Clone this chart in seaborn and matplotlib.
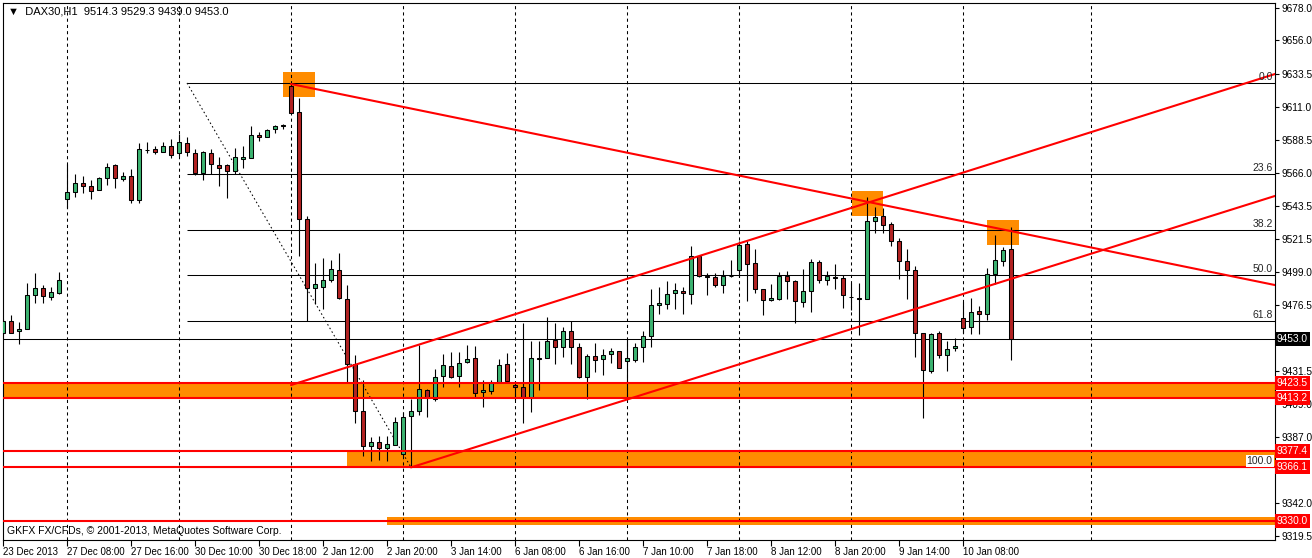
import numpy as np
import pandas as pd
import matplotlib
matplotlib.use("Agg")
import matplotlib.pyplot as plt
import matplotlib.transforms as mtrans
import seaborn as sns

# ---- candle data (DAX30, H1) ----
opens = [9457.6, 9465.3, 9458.5, 9459.8, 9482.9, 9487.7, 9481.5, 9484.2, 9548.1, 9552.9,
         9558.9, 9556.9, 9554.2, 9562.4, 9571.2, 9561.7, 9563.7, 9547.4, 9581.4, 9582.1,
         9580.0, 9584.1, 9579.3, 9586.1, 9579.3, 9565.8, 9579.3, 9571.2, 9571.2, 9567.1,
         9575.3, 9575.9, 9591.5, 9590.2, 9595.6, 9597.9, 9624.8, 9607.2, 9534.5, 9487.7,
         9488.3, 9493.0, 9499.9, 9480.2, 9436.1, 9404.2, 9380.9, 9383.1, 9379.6, 9381.6,
         9375.0, 9401.2, 9404.2, 9418.4, 9412.3, 9427.9, 9434.7, 9427.9, 9437.4, 9440.2,
         9417.1, 9417.8, 9423.9, 9436.1, 9421.8, 9420.4, 9413.0, 9440.2, 9440.2, 9452.4,
         9447.6, 9458.5, 9447.6, 9427.2, 9441.5, 9439.5, 9442.9, 9444.9, 9438.1, 9438.8,
         9447.6, 9455.1, 9476.2, 9476.9, 9484.2, 9485.6, 9483.6, 9509.4, 9495.8, 9495.1,
         9489.7, 9495.8, 9499.9, 9517.6, 9504.6, 9487.0, 9479.5, 9480.2, 9495.8, 9492.4,
         9478.2, 9485.6, 9505.3, 9493.0, 9495.1, 9494.4, 9481.8, 9480.9, 9480.2, 9533.2,
         9536.6, 9531.1, 9519.6, 9506.0, 9499.9, 9457.1, 9431.5, 9457.1, 9442.2, 9446.9,
         9467.3, 9461.1, 9472.1, 9470.0, 9497.2, 9506.0, 9514.3]
highs = [9466.6, 9469.3, 9464.5, 9491.0, 9497.8, 9489.7, 9488.3, 9498.5, 9571.9, 9565.1,
         9563.7, 9561.0, 9563.0, 9572.6, 9571.9, 9566.4, 9568.5, 9586.1, 9586.8, 9584.1,
         9586.8, 9588.8, 9592.2, 9590.2, 9582.1, 9580.9, 9582.1, 9576.6, 9571.9, 9582.7,
         9584.1, 9597.7, 9593.6, 9595.6, 9598.3, 9599.4, 9626.2, 9616.7, 9536.6, 9504.6,
         9508.0, 9506.6, 9511.4, 9489.7, 9442.2, 9425.2, 9386.4, 9387.1, 9387.1, 9400.3,
         9403.6, 9412.3, 9449.2, 9419.1, 9432.7, 9442.9, 9444.2, 9444.2, 9449.0, 9448.3,
         9425.2, 9425.2, 9439.5, 9443.5, 9424.8, 9463.9, 9451.9, 9451.9, 9467.9, 9463.9,
         9461.4, 9465.3, 9450.3, 9442.9, 9450.3, 9446.3, 9446.9, 9444.9, 9453.1, 9450.3,
         9458.5, 9487.0, 9488.3, 9492.4, 9491.0, 9488.3, 9516.2, 9510.1, 9497.8, 9497.8,
         9499.9, 9506.7, 9519.6, 9519.6, 9514.2, 9487.0, 9490.4, 9498.5, 9499.2, 9493.3,
         9500.5, 9507.4, 9506.7, 9499.2, 9503.9, 9496.5, 9491.0, 9491.0, 9549.6, 9542.7,
         9542.0, 9532.5, 9521.6, 9514.2, 9502.6, 9457.1, 9457.1, 9458.5, 9451.9, 9453.7,
         9478.2, 9480.9, 9475.5, 9501.3, 9523.6, 9515.5, 9529.3]
lows = [9455.7, 9457.6, 9449.6, 9459.8, 9477.9, 9477.5, 9480.0, 9483.6, 9542.0, 9549.4,
        9552.6, 9548.1, 9554.2, 9557.6, 9556.0, 9560.3, 9545.4, 9545.4, 9579.3, 9578.7,
        9580.0, 9575.9, 9577.3, 9577.3, 9564.4, 9561.0, 9565.1, 9557.3, 9548.8, 9565.1,
        9569.2, 9575.9, 9587.5, 9590.2, 9592.9, 9596.0, 9606.5, 9509.8, 9465.3, 9476.8,
        9473.4, 9491.8, 9480.2, 9423.6, 9396.0, 9373.5, 9370.1, 9370.8, 9370.1, 9381.6,
        9373.7, 9366.1, 9402.0, 9400.6, 9410.9, 9420.4, 9426.5, 9420.4, 9436.7, 9413.0,
        9406.9, 9415.7, 9423.2, 9423.2, 9411.8, 9396.0, 9403.6, 9418.4, 9440.2, 9436.1,
        9441.3, 9436.1, 9426.5, 9412.3, 9430.6, 9428.6, 9436.7, 9433.4, 9413.0, 9437.4,
        9437.4, 9448.0, 9470.0, 9473.4, 9473.4, 9470.0, 9476.9, 9495.1, 9482.9, 9488.3,
        9484.3, 9495.1, 9495.1, 9478.9, 9484.3, 9469.3, 9478.9, 9479.5, 9480.2, 9463.9,
        9474.7, 9471.4, 9491.0, 9489.7, 9487.0, 9474.1, 9472.7, 9455.8, 9480.2, 9525.0,
        9525.0, 9516.2, 9493.7, 9480.2, 9440.8, 9399.6, 9429.9, 9440.5, 9431.3, 9444.9,
        9457.1, 9456.4, 9456.4, 9465.9, 9490.4, 9502.6, 9439.0]
closes = [9465.3, 9457.6, 9459.8, 9482.9, 9487.7, 9482.2, 9484.9, 9493.0, 9552.9, 9558.9,
          9556.9, 9553.5, 9562.4, 9569.8, 9562.4, 9563.7, 9547.4, 9582.1, 9581.8, 9580.0,
          9584.1, 9578.0, 9586.8, 9580.0, 9565.8, 9580.0, 9571.9, 9569.2, 9567.1, 9576.6,
          9576.6, 9591.5, 9590.2, 9594.9, 9597.7, 9597.9, 9606.5, 9534.5, 9487.7, 9490.4,
          9493.0, 9500.5, 9480.9, 9436.1, 9404.2, 9380.9, 9383.1, 9379.6, 9381.7, 9396.7,
          9400.0, 9404.6, 9419.2, 9413.0, 9427.2, 9435.4, 9427.2, 9436.7, 9439.5, 9416.4,
          9418.4, 9423.2, 9435.4, 9424.6, 9420.4, 9413.6, 9440.2, 9440.0, 9451.9, 9447.6,
          9458.5, 9447.6, 9427.2, 9441.5, 9438.8, 9442.2, 9444.9, 9433.4, 9440.2, 9447.6,
          9455.1, 9476.2, 9477.5, 9483.6, 9486.3, 9484.2, 9509.4, 9495.8, 9495.5, 9489.7,
          9495.8, 9495.8, 9516.9, 9504.0, 9487.0, 9479.5, 9480.9, 9495.8, 9492.4, 9479.0,
          9485.6, 9505.3, 9493.0, 9495.8, 9494.7, 9482.9, 9481.5, 9480.6, 9533.2, 9535.9,
          9530.5, 9519.6, 9506.0, 9499.9, 9457.1, 9432.0, 9456.4, 9442.2, 9446.3, 9448.3,
          9460.5, 9471.4, 9470.0, 9497.2, 9506.7, 9513.5, 9453.0]

# time axis labels (bar index -> text)
xtick_bars = [0, 8, 16, 24, 32, 40, 48, 56, 64, 72, 80, 88, 96, 104, 112, 120]
xtick_labels = ["23 Dec 2013", "27 Dec 08:00", "27 Dec 16:00", "30 Dec 10:00", "30 Dec 18:00",
                "2 Jan 12:00", "2 Jan 20:00", "3 Jan 14:00", "6 Jan 08:00", "6 Jan 16:00",
                "7 Jan 10:00", "7 Jan 18:00", "8 Jan 12:00", "8 Jan 20:00", "9 Jan 14:00",
                "10 Jan 08:00"]
day_separators = [8, 22, 36, 50, 64, 78, 92, 106, 120, 136]
ytick_prices = [9678.0, 9656.0, 9633.5, 9611.0, 9588.5, 9566.0, 9543.5, 9521.5, 9499.0,
                9476.5, 9431.5, 9409.0, 9387.0, 9342.0, 9319.5]

# drawn objects
fib_prices = [9627.1, 9565.5, 9527.4, 9496.6, 9465.8, 9366.1]
fib_labels = ["0.0", "23.6", "38.2", "50.0", "61.8", "100.0"]
fib_start = 23
fib_diag_x = [23, 51]
fib_diag_y = [9627.1, 9366.1]
red_levels = [9423.5, 9413.2, 9377.4, 9366.1, 9330.0]
red_level_labels = ["9423.5", "9413.2", "9377.4", "9366.1", "9330.0"]
zones = [(0, 9413.2, 9423.5), (43, 9366.1, 9377.4), (48, 9327.3, 9332.7)]
squares = [(35, 39, 9617.6, 9634.5), (106.1, 110, 9536.8, 9553.7), (123, 127, 9517.1, 9534.0)]
trend_lines = [([36, 159], [9626.4, 9489.9]),
               ([36, 159], [9422.0, 9633.2]),
               ([51, 159], [9366.1, 9550.4])]
bid_price = 9453.0

X_MAX = 159
Y_MIN, Y_MAX = 9316.8, 9681.4

sns.set_theme(style="white")
plt.rcParams["font.family"] = ["Liberation Sans", "DejaVu Sans"]

df = pd.DataFrame({"open": opens, "high": highs, "low": lows, "close": closes})
df["bar"] = np.arange(len(df))

fig = plt.figure(figsize=(13.12, 5.58), dpi=100)
ax = fig.add_axes([3 / 1312, 18 / 558, 1272 / 1312, 537 / 558])
ax.set_facecolor("white")

# orange zones and highlight squares
for x0, p0, p1 in zones:
    ax.fill_between([x0, X_MAX], p0, p1, color="#FF8C00", lw=0, zorder=1)
for x0, x1, p0, p1 in squares:
    ax.fill_between([x0, x1], p0, p1, color="#FF8C00", lw=0, zorder=1)

# day separators
for d in day_separators:
    ax.axvline(d, color="black", lw=0.75, ls=(0, (3, 3)), zorder=1.5)

# fibonacci levels
for p, lab in zip(fib_prices, fib_labels):
    ax.hlines(p, fib_start, X_MAX, color="black", lw=0.75, zorder=2)
    if lab == "100.0":
        ax.text(X_MAX - 0.3, p + 0.8, lab, ha="right", va="bottom", fontsize=7.5,
                bbox=dict(boxstyle="square,pad=0.1", fc="white", ec="none"), zorder=6)
    else:
        ax.text(X_MAX - 0.3, p + 0.6, lab, ha="right", va="bottom", fontsize=7.5, zorder=6)
sns.lineplot(x=fib_diag_x, y=fib_diag_y, ax=ax, color="black", lw=0.75,
             linestyle=(0, (1.5, 2.5)), zorder=2)

# bid line
ax.axhline(bid_price, color="black", lw=0.75, zorder=2)

# candles
up = df["close"] >= df["open"]
ax.vlines(df["bar"], df["low"], df["high"], color="black", lw=0.8, zorder=3)
body_lo = np.minimum(df["open"], df["close"])
body_h = np.maximum(np.abs(df["close"] - df["open"]), 0.4)
colors = np.where(up, "#3CB371", "#B22222")
ax.bar(df["bar"], body_h, bottom=body_lo, width=0.62, color=colors,
       edgecolor="black", linewidth=0.75, zorder=3.5)

# red levels and trend lines
for p in red_levels:
    ax.axhline(p, color="#FF0000", lw=1.5, zorder=4)
for xs, ys in trend_lines:
    sns.lineplot(x=xs, y=ys, ax=ax, color="#FF0000", lw=1.5, zorder=4)

ax.set_xlim(0, X_MAX)
ax.set_ylim(Y_MIN, Y_MAX)

# axes styling
for s in ax.spines.values():
    s.set_color("black")
    s.set_linewidth(0.8)
ax.yaxis.tick_right()
ax.set_yticks(ytick_prices)
ax.set_yticklabels([f"{p:.1f}" for p in ytick_prices])
ax.set_xticks(xtick_bars)
ax.set_xticklabels(xtick_labels)
for t in ax.get_xticklabels():
    t.set_ha("left")
ax.tick_params(axis="both", direction="out", length=3, width=0.8, color="black",
               labelsize=7.3, labelcolor="black", pad=2)
ax.tick_params(axis="x", length=4, pad=1, labelsize=7)
ax.tick_params(left=False, bottom=True, right=True)
ax.set_xlabel("")
ax.set_ylabel("")

# price boxes on the right axis
blend = mtrans.blended_transform_factory(ax.transAxes, ax.transData)
for p, lab in zip(red_levels, red_level_labels):
    ax.text(1.0015, p, lab, transform=blend, ha="left", va="center", fontsize=7.3,
            color="white", bbox=dict(boxstyle="square,pad=0.2", fc="#FF0000", ec="none"),
            zorder=7, clip_on=False)
ax.text(1.0015, bid_price, f"{bid_price:.1f}", transform=blend, ha="left", va="center",
        fontsize=7.3, color="white", bbox=dict(boxstyle="square,pad=0.2", fc="black", ec="none"),
        zorder=7, clip_on=False)

# chart captions
ax.text(0.004, 0.993, "\u25BC  DAX30,H1  9514.3 9529.3 9439.0 9453.0", transform=ax.transAxes,
        ha="left", va="top", fontsize=8, color="black", zorder=8)
ax.text(0.003, 0.008, "GKFX FX/CFDs, \u00A9 2001-2013, MetaQuotes Software Corp.",
        transform=ax.transAxes, ha="left", va="bottom", fontsize=7.5, color="black", zorder=8)

fig.savefig("out.png", dpi=100, facecolor="white")
